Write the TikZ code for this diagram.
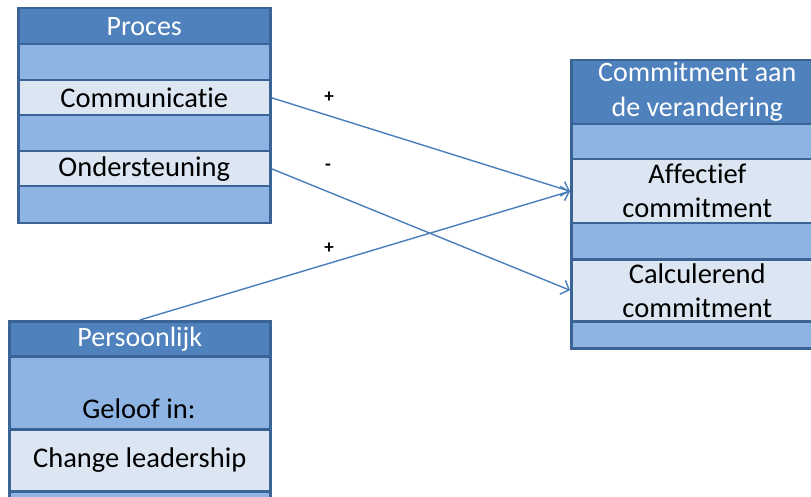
\documentclass[tikz,border=0pt]{standalone}
\usepackage{fontspec}
\setmainfont{Carlito}[Ligatures=NoCommon]
\usetikzlibrary{arrows.meta}
\definecolor{hdrblue}{HTML}{4F81BD}
\definecolor{midblue}{HTML}{8EB4E3}
\definecolor{paleblue}{HTML}{DCE6F2}
\definecolor{edgeblue}{HTML}{3A6496}
\definecolor{linkblue}{HTML}{4A7EBB}
\begin{document}
\begin{tikzpicture}[x=1pt,y=-1pt,
  cell/.style={draw=edgeblue,line width=2.5pt,anchor=north west,inner sep=0pt,
    align=center,font=\fontsize{28.5}{34}\selectfont},
  hdr/.style={cell,fill=hdrblue,text=white,font=\fontsize{28}{35}\selectfont},
  band/.style={cell,fill=midblue},
  item/.style={cell,fill=paleblue},
  link/.style={draw=linkblue,line width=1.4pt,-{Straight Barb[length=7pt,width=15pt,line width=1.4pt]}},
  sign/.style={font=\fontsize{19}{19}\selectfont\bfseries,inner sep=0pt}]
\useasboundingbox (0,0) rectangle (811,497);
\clip (0,0) rectangle (811,497);
\fill[white] (0,0) rectangle (811,497);

% Proces
\node[hdr,minimum width=252pt,minimum height=36pt] (p0) at (17,7) {Proces};
\node[band,minimum width=252pt,minimum height=36pt] (p1) at (17,43) {};
\node[item,minimum width=252pt,minimum height=35pt] (p2) at (17,79) {Communicatie};
\node[band,minimum width=252pt,minimum height=36pt] (p3) at (17,114) {};
\node[item,minimum width=252pt,minimum height=35pt] (p4) at (17,150) {Ondersteuning};
\node[band,minimum width=252pt,minimum height=37pt] (p5) at (17,185) {};

% Commitment aan de verandering
\node[hdr,minimum width=252pt,minimum height=64pt] (c0) at (570,59) {Commitment aan\\de verandering};
\node[band,minimum width=252pt,minimum height=35pt] (c1) at (570,123) {};
\node[item,minimum width=252pt,minimum height=64pt] (c2) at (570,158) {Affectief\\commitment};
\node[band,minimum width=252pt,minimum height=36pt] (c3) at (570,222) {};
\node[item,minimum width=252pt,minimum height=62pt] (c4) at (570,258) {Calculerend\\commitment};
\node[band,minimum width=252pt,minimum height=27pt] (c5) at (570,320) {};

% Persoonlijk
\node[hdr,minimum width=261pt,minimum height=35pt] (q0) at (8,320) {Persoonlijk};
\node[band,minimum width=261pt,minimum height=73pt] (q1) at (8,355) {};
\node[anchor=base] (geloof) at (139,418) {\fontsize{28.5}{34}\selectfont Geloof in:};
\node[item,minimum width=261pt,minimum height=62pt] (q2) at (8,428) {Change leadership};
\node[band,minimum width=261pt,minimum height=30pt] (q3) at (8,490) {};

% relations
\draw[link] (p2.east) -- (c2.west);
\draw[link] (p4.east) -- (c4.west);
\draw[link] (q0.north) -- (c2.west);

\node[sign] (s1) at (329,97) {+};
\node[sign] (s2) at (328,167) {-};
\node[sign] (s3) at (329,248) {+};
\end{tikzpicture}
\end{document}
